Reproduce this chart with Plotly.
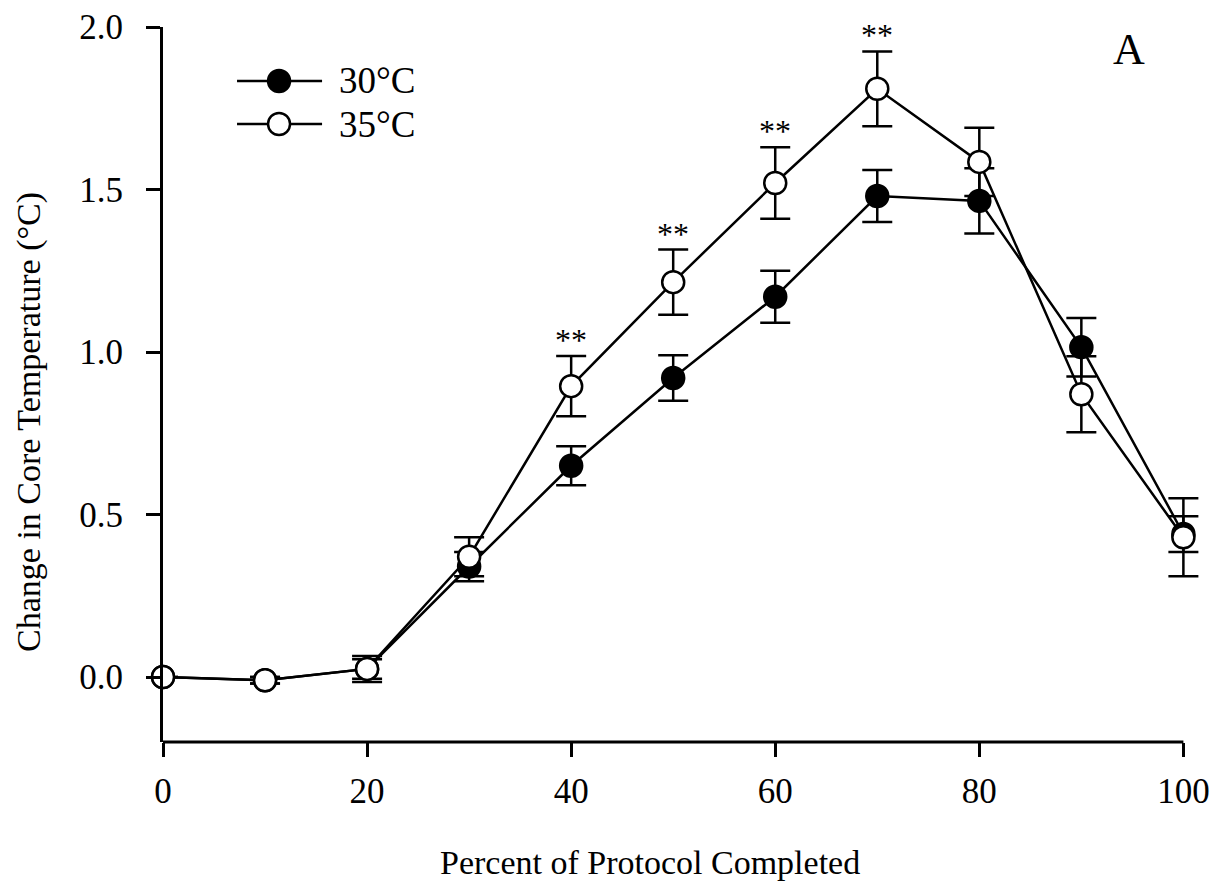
import plotly.graph_objects as go

pct = [0, 10, 20, 30, 40, 50, 60, 70, 80, 90, 100]
t30 = [0.0, -0.01, 0.025, 0.34, 0.65, 0.92, 1.17, 1.48, 1.465, 1.015, 0.44]
e30 = [0.0, 0.01, 0.03, 0.045, 0.06, 0.07, 0.08, 0.08, 0.10, 0.09, 0.055]
t35 = [0.0, -0.01, 0.025, 0.37, 0.895, 1.215, 1.52, 1.81, 1.585, 0.87, 0.43]
e35 = [0.0, 0.01, 0.04, 0.06, 0.093, 0.10, 0.11, 0.115, 0.105, 0.117, 0.12]
sig_idx = [4, 5, 6, 7]
series_names = ["30°C", "35°C"]
x_ticks = [0, 20, 40, 60, 80, 100]
y_ticks = [0, 0.5, 1.0, 1.5, 2.0]
y_ticktext = ["0.0", "0.5", "1.0", "1.5", "2.0"]

FONT = "Liberation Serif, Times New Roman, serif"
W, H = 1216, 892
L, T, B = 163, 27, 150
x_end = 100
x_pad = 3  # extra room so error-bar caps at 100 are not clipped
px_per_unit = (1183 - 163) / x_end
R = W - L - px_per_unit * (x_end + x_pad)
pw, ph = W - L - R, H - T - B

def px_x(p):
    return (p - L) / pw

def px_y(p):
    return (H - B - p) / ph

fig = go.Figure()
for ys, es, fill in [(t30, e30, "black"), (t35, e35, "white")]:
    fig.add_trace(go.Scatter(
        x=pct, y=ys, mode="lines+markers",
        line=dict(color="black", width=2.5),
        marker=dict(symbol="circle", size=22, color=fill,
                    line=dict(color="black", width=2.5)),
        error_y=dict(type="data", array=es, visible=True,
                     color="black", thickness=2.5, width=15),
        cliponaxis=False, showlegend=False))

annotations = []
for i in sig_idx:
    annotations.append(dict(x=pct[i], y=t35[i] + e35[i] - 0.012, xref="x", yref="y",
                            text="**", showarrow=False, yanchor="bottom",
                            font=dict(family=FONT, size=32, color="black")))

shapes = [dict(type="line", xref="x", yref="paper", x0=0, x1=x_end, y0=0, y1=0,
               line=dict(color="black", width=3))]
for row_py, fill, name in [(81, "black", series_names[0]), (124, "white", series_names[1])]:
    yy = px_y(row_py)
    shapes.append(dict(type="line", xref="paper", yref="paper",
                       x0=px_x(237), x1=px_x(322), y0=yy, y1=yy,
                       line=dict(color="black", width=2.5)))
    shapes.append(dict(type="circle", xref="paper", yref="paper",
                       xsizemode="pixel", ysizemode="pixel",
                       xanchor=px_x(279), yanchor=yy,
                       x0=-11, x1=11, y0=-11, y1=11,
                       fillcolor=fill, line=dict(color="black", width=2.5)))
    annotations.append(dict(x=px_x(337), y=yy, xref="paper", yref="paper",
                            text=name, showarrow=False, xanchor="left", yanchor="middle",
                            font=dict(family=FONT, size=37, color="black")))

annotations.append(dict(x=px_x(1129), y=px_y(49), xref="paper", yref="paper",
                        text="A", showarrow=False, xanchor="center", yanchor="middle",
                        font=dict(family=FONT, size=44, color="black")))
annotations.append(dict(x=px_x(650), y=px_y(862), xref="paper", yref="paper",
                        text="Percent of Protocol Completed", showarrow=False,
                        xanchor="center", yanchor="middle",
                        font=dict(family=FONT, size=34, color="black")))
annotations.append(dict(x=px_x(29), y=px_y(422), xref="paper", yref="paper",
                        text="Change in Core Temperature (°C)", showarrow=False,
                        textangle=-90, xanchor="center", yanchor="middle",
                        font=dict(family=FONT, size=34, color="black")))

fig.update_layout(
    width=W, height=H,
    margin=dict(l=L, r=R, t=T, b=B),
    plot_bgcolor="white", paper_bgcolor="white",
    font=dict(family=FONT, size=35, color="black"),
    shapes=shapes, annotations=annotations,
    xaxis=dict(range=[0, x_end + x_pad], tickvals=x_ticks,
               showgrid=False, zeroline=False, showline=False,
               ticks="outside", ticklen=14, tickwidth=3, tickcolor="black",
               ticklabelstandoff=4,
               tickfont=dict(family=FONT, size=35, color="black")),
    yaxis=dict(range=[-0.2, 2.0], tickvals=y_ticks, ticktext=y_ticktext,
               showgrid=False, zeroline=False, showline=True,
               linecolor="black", linewidth=3, ticks="outside",
               ticklen=14, tickwidth=3, tickcolor="black",
               ticklabelstandoff=16,
               tickfont=dict(family=FONT, size=35, color="black")),
)

fig.write_html("out.html")
